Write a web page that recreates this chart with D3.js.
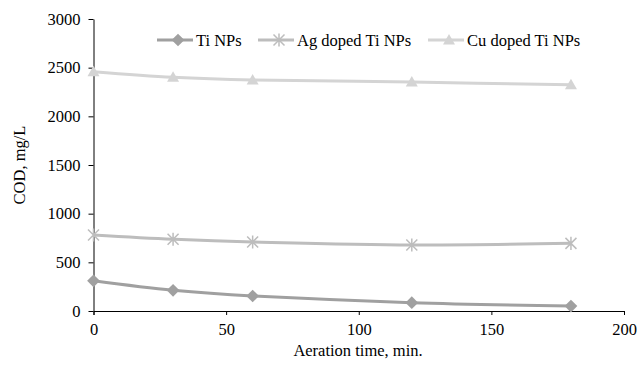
<!DOCTYPE html>
<html>
<head>
<meta charset="utf-8">
<script src="https://cdnjs.cloudflare.com/ajax/libs/d3/7.8.5/d3.min.js"></script>
<style>
  body { margin: 0; background: #fff; }
  svg { display: block; }
  svg text { font-family: "Liberation Serif", "Times New Roman", serif; }
</style>
</head>
<body>
<div id="chart"></div>
<script>
// aeration time (min) and COD (mg/L)
var times = [0, 30, 60, 120, 180];
var tiNPs = [310, 212, 154, 86, 51];
var agDoped = [781, 737, 709, 678, 695];
var cuDoped = [2459, 2401, 2373, 2352, 2324];

var seriesNames = ["Ti NPs", "Ag doped Ti NPs", "Cu doped Ti NPs"];
var xTicks = [0, 50, 100, 150, 200];
var yTicks = [0, 500, 1000, 1500, 2000, 2500, 3000];

var width = 638, height = 365,
    margin = {top: 19, right: 14, bottom: 54, left: 93.5};
var fs = 16.5;

var svg = d3.select("#chart").append("svg")
  .attr("width", width)
  .attr("height", height);

var x = d3.scaleLinear().domain([0, 200]).range([margin.left, width - margin.right]);
var y = d3.scaleLinear().domain([0, 3000]).range([height - margin.bottom, margin.top]);

var colors = ["#a0a0a0", "#bdbdbd", "#d4d4d4"];

// axes
var xAxis = svg.append("g")
  .attr("transform", "translate(0," + y(0) + ")")
  .call(d3.axisBottom(x).tickValues(xTicks).tickFormat(d3.format("d"))
    .tickSize(4).tickSizeOuter(4).tickPadding(8));
var yAxis = svg.append("g")
  .attr("transform", "translate(" + x(0) + ",0)")
  .call(d3.axisLeft(y).tickValues(yTicks).tickFormat(d3.format("d"))
    .tickSize(5).tickSizeOuter(0).tickPadding(8));

[xAxis, yAxis].forEach(function(a) {
  a.attr("font-family", null).attr("font-size", null);
  a.selectAll("text").attr("font-size", fs).attr("fill", "#000");
  a.selectAll("line,path").attr("stroke", "#000").attr("stroke-width", 1);
});

svg.append("text")
  .attr("x", 358).attr("y", 356)
  .attr("text-anchor", "middle")
  .attr("font-size", fs)
  .text("Aeration time, min.");

svg.append("text")
  .attr("transform", "translate(25,165) rotate(-90)")
  .attr("text-anchor", "middle")
  .attr("font-size", fs)
  .text("COD, mg/L");

// markers
function marker(g, i, cx, cy) {
  var c = colors[i];
  if (i === 0) {
    g.append("rect")
      .attr("x", -4.5).attr("y", -4.5).attr("width", 9).attr("height", 9)
      .attr("transform", "translate(" + cx + "," + cy + ") rotate(45)")
      .attr("fill", c);
  } else if (i === 1) {
    var r = 5.5;
    g.append("path")
      .attr("d", "M" + (-r) + "," + (-r) + "L" + r + "," + r +
                 "M" + (-r) + "," + r + "L" + r + "," + (-r) +
                 "M0," + (-r * 1.2) + "L0," + (r * 1.2))
      .attr("transform", "translate(" + cx + "," + cy + ")")
      .attr("stroke", c).attr("stroke-width", 1.5).attr("fill", "none");
  } else {
    g.append("path")
      .attr("d", "M0,-6L6,4.5L-6,4.5Z")
      .attr("transform", "translate(" + cx + "," + cy + ")")
      .attr("fill", c);
  }
}

var line = d3.line()
  .x(function(d) { return x(d[0]); })
  .y(function(d) { return y(d[1]); })
  .curve(d3.curveCardinal.tension(0));

var allSeries = [tiNPs, agDoped, cuDoped];
allSeries.forEach(function(vals, i) {
  var pts = times.map(function(t, j) { return [t, vals[j]]; });
  var g = svg.append("g");
  g.append("path")
    .attr("d", line(pts))
    .attr("fill", "none")
    .attr("stroke", colors[i])
    .attr("stroke-width", 3);
  pts.forEach(function(p) { marker(g, i, x(p[0]), y(p[1])); });
});

// legend
var legendX = [157, 258, 428];
var legend = svg.append("g");
seriesNames.forEach(function(name, i) {
  var lg = legend.append("g");
  lg.append("line")
    .attr("x1", legendX[i]).attr("x2", legendX[i] + 36)
    .attr("y1", 40).attr("y2", 40)
    .attr("stroke", colors[i]).attr("stroke-width", 3);
  marker(lg, i, legendX[i] + 21, 40);
  lg.append("text")
    .attr("x", legendX[i] + 39).attr("y", 45.5)
    .attr("font-size", fs)
    .text(name);
});
</script>
</body>
</html>
